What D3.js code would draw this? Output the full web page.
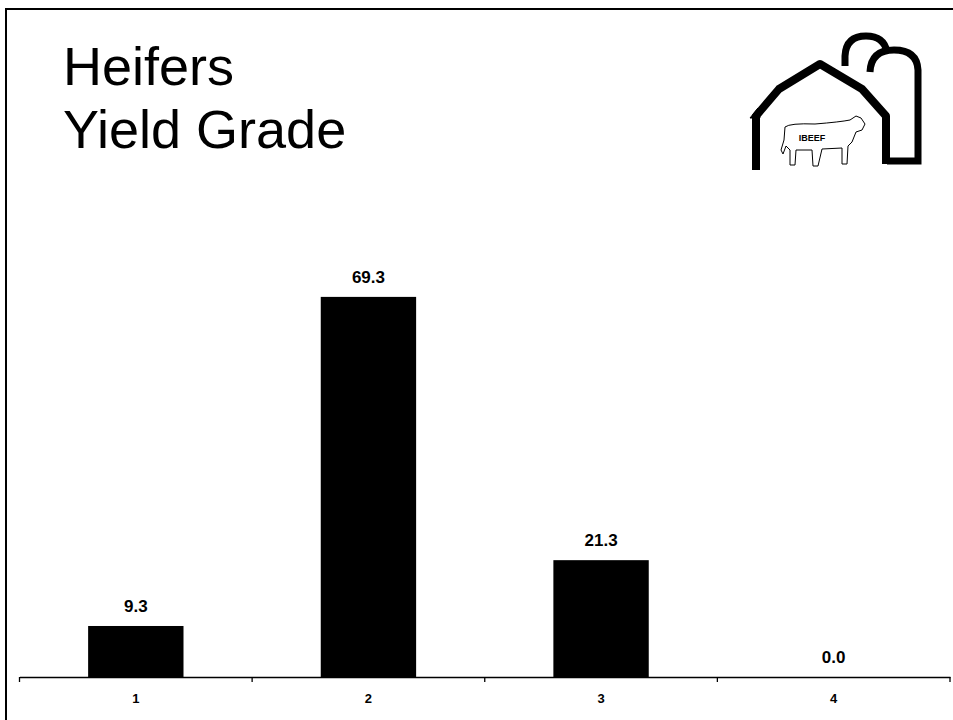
<!DOCTYPE html>
<html>
<head>
<meta charset="utf-8">
<script src="https://cdn.jsdelivr.net/npm/d3@7"></script>
<style>
  body { margin: 0; background: #fff; }
  svg { display: block; font-family: Arial, "Liberation Sans", sans-serif; }
</style>
</head>
<body>
<script>
// chart data
const grades = ["1", "2", "3", "4"];
const percents = [9.3, 69.3, 21.3, 0.0];
const titleLines = ["Heifers", "Yield Grade"];

const w = 953, h = 720;
const left = 19.5, right = 950, base = 677;

const svg = d3.select("body").append("svg")
  .attr("width", w)
  .attr("height", h);

svg.append("rect").attr("width", w).attr("height", h).attr("fill", "#fff");

// frame round the slide (runs off right and bottom)
svg.append("rect")
  .attr("x", 6).attr("y", 9)
  .attr("width", 980).attr("height", 740)
  .attr("fill", "none")
  .attr("stroke", "#000")
  .attr("stroke-width", 2);

// title
svg.append("g").selectAll("text")
  .data(titleLines)
  .enter().append("text")
  .attr("x", 63)
  .attr("y", (d, i) => 85 + i * 63)
  .attr("font-size", 54)
  .attr("fill", "#000")
  .text(d => d);

// scales
const xAxisScale = d3.scaleBand().domain(grades).range([left, right]).padding(0);
const x = d3.scaleBand().domain(grades).range([left, right])
  .paddingInner(0.59).paddingOuter(0.295);
const y = d3.scaleLinear().domain([0, 80]).range([base, base - 80 * 5.485]);

// bars
svg.append("g").selectAll("rect")
  .data(percents)
  .enter().append("rect")
  .attr("x", (d, i) => x(grades[i]))
  .attr("y", d => y(d))
  .attr("width", x.bandwidth())
  .attr("height", d => y(0) - y(d))
  .attr("fill", "#000");

// value labels
svg.append("g").selectAll("text")
  .data(percents)
  .enter().append("text")
  .attr("x", (d, i) => x(grades[i]) + x.bandwidth() / 2)
  .attr("y", d => y(d) - 14)
  .attr("text-anchor", "middle")
  .attr("font-size", 17)
  .attr("font-weight", "bold")
  .text(d => d.toFixed(1));

// x axis: labels centred, tick marks on category boundaries
const xAxis = d3.axisBottom(xAxisScale).tickSize(0).tickPadding(17);
const ax = svg.append("g")
  .attr("transform", "translate(0," + base + ")")
  .call(xAxis);
ax.select(".domain").attr("stroke", "#000").attr("stroke-width", 1.3);
ax.selectAll("text")
  .attr("font-family", "Arial, 'Liberation Sans', sans-serif")
  .attr("font-size", 13)
  .attr("font-weight", "bold")
  .attr("fill", "#000");

const bounds = grades.map(g => xAxisScale(g)).concat([right]);
ax.selectAll("line.bound")
  .data(bounds)
  .enter().append("line")
  .attr("class", "bound")
  .attr("x1", d => d).attr("x2", d => d)
  .attr("y1", 0).attr("y2", 5)
  .attr("stroke", "#000")
  .attr("stroke-width", 1.3);

// IBEEF barn logo
const logo = svg.append("g").attr("fill", "none").attr("stroke", "#000");
// back silo dome
logo.append("path")
  .attr("d", "M845,66 L845,56 Q846,36 866,36 Q884,36 887,52")
  .attr("stroke-width", 7);
// silo
logo.append("path")
  .attr("d", "M870,72 Q871,50 894,50 Q917,50 918,70 L918,161 L887,161")
  .attr("stroke-width", 7);
// barn
logo.append("path")
  .attr("d", "M756,170 L756,116 L779,89 L820,64 L862,89 L886,116 L886,164")
  .attr("stroke-width", 8)
  .attr("stroke-linejoin", "round");
logo.append("path")
  .attr("d", "M750,118 L758,108 L760,118 Z")
  .attr("fill", "#000").attr("stroke-width", 1);
// cow outline
logo.append("path")
  .attr("d", "M785,127 Q790,123 815,124 Q840,122 850,120 L856,116 L861,118 L865,124 L862,130 L856,132 L852,142 L848,146 L847,164 L842,164 L842,148 L822,149 L818,166 L813,166 L812,150 L796,150 L795,165 L790,165 L790,150 L786,146 L783,154 L781,150 L784,140 Z")
  .attr("stroke-width", 1);
logo.append("text")
  .attr("x", 812).attr("y", 141)
  .attr("text-anchor", "middle")
  .attr("font-size", 9)
  .attr("font-weight", "bold")
  .attr("fill", "#000").attr("stroke", "none")
  .text("IBEEF");
</script>
</body>
</html>
